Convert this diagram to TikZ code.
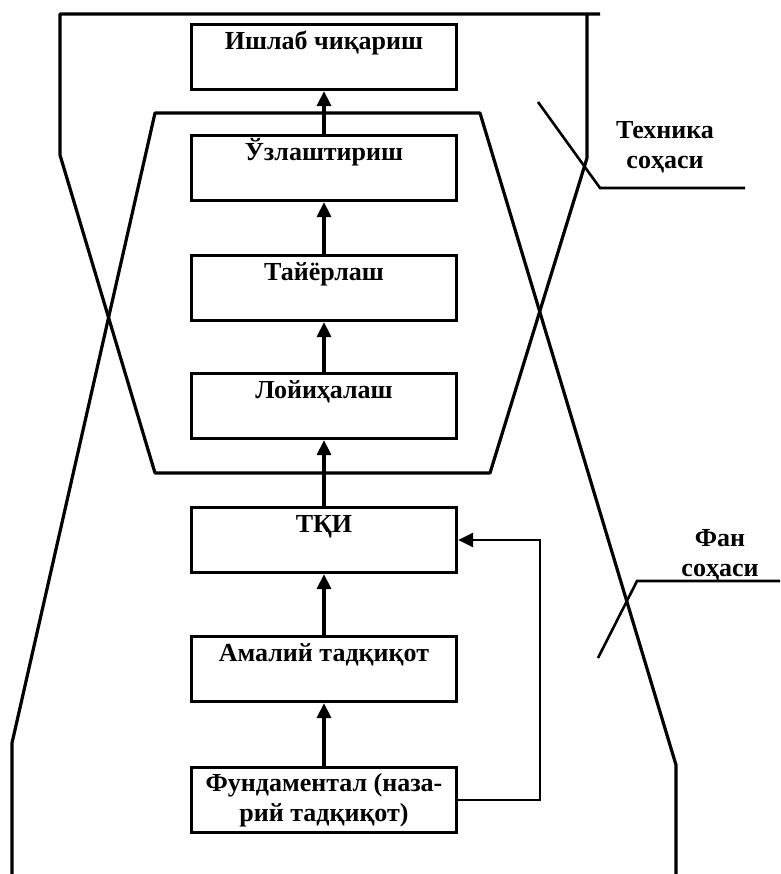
\documentclass[tikz,border=0pt]{standalone}
\usepackage{fontspec}
\setmainfont{Liberation Serif}
\usetikzlibrary{arrows.meta}

\begin{document}
\begin{tikzpicture}[x=1pt, y=-1pt, font=\fontsize{26}{30}\selectfont\bfseries,
    stage/.style={draw, line width=3.2pt, rectangle, minimum width=265pt, minimum height=65pt, inner sep=0pt, text height=18pt, text depth=33pt},
    stagetwo/.style={draw, line width=3.2pt, rectangle, minimum width=265pt, minimum height=65pt, inner sep=0pt, align=center},
    flow/.style={line width=3.2pt, -{Triangle[width=14pt, length=15pt]}},
    zone/.style={line width=3.2pt, line join=round},
    leader/.style={line width=2.6pt},
    area/.style={align=center, inner sep=0pt}]
    \useasboundingbox (0,0) rectangle (780,874);

    % Босқичлар
    \foreach \name/\y/\txt in {prod/57/Ишлаб чиқариш, uzl/168/Ўзлаштириш, tay/288/Тайёрлаш, loy/406/Лойиҳалаш, tki/540/ТҚИ, amal/669/Амалий тадқиқот} {
        \node[stage] (\name) at (324,\y) {\txt};
    }
    \node[stagetwo] (fund) at (324,800) {\raisebox{-4pt}{Фундаментал (наза-}\\\raisebox{-4pt}{рий тадқиқот)}};

    % Стрелкалар
    \foreach \a/\b in {fund/amal, amal/tki, tki/loy, loy/tay, tay/uzl, uzl/prod} {
        \draw[flow] (\a) -- (\b);
    }
    \draw[flow, line width=2.6pt] (fund.east) -- ++(82,0) |- (tki.east);

    % Техника соҳаси
    \draw[zone] (600,14) -- (60,14) -- (60,155) -- (155,473) -- (490,473) -- (587,158) -- (587,14);
    % Фан соҳаси
    \draw[zone] (12,874) -- (12,743) -- (155,113) -- (480,113) -- (676,765) -- (676,874);

    % Изоҳлар
    \node[area] (tech) at (665,147) {Техника\\соҳаси};
    \coordinate (techA) at (538,102);
    \coordinate (techB) at (745,188);
    \draw[leader] (techA) -- (600,188) -- (techB);
    \node[area] (fan) at (720,555) {Фан\\соҳаси};
    \coordinate (fanA) at (598,658);
    \coordinate (fanB) at (780,581);
    \draw[leader] (fanA) -- (637,581) -- (fanB);
\end{tikzpicture}
\end{document}
